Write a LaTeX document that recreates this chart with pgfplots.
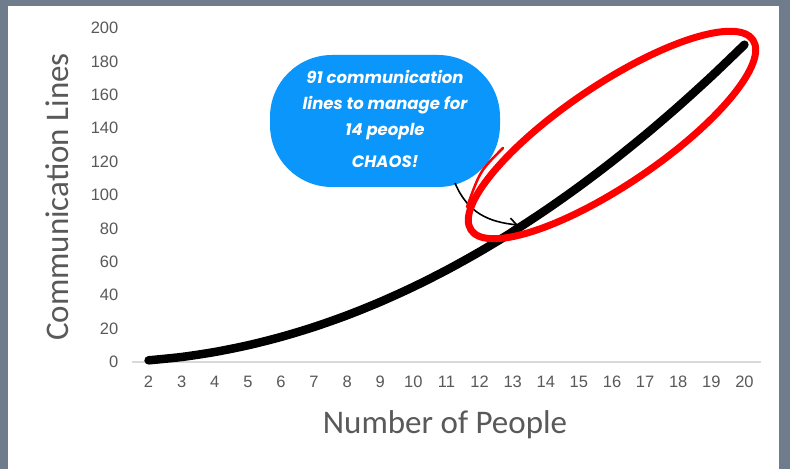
\documentclass[border=0pt]{standalone}
\usepackage{fontspec}
\setmainfont{Liberation Sans}
\newfontfamily\titlefont{Carlito}
\newfontfamily\popfont{Poppins}
\usepackage{pgfplots}
\pgfplotsset{compat=1.18}
\usetikzlibrary{arrows.meta}
\definecolor{frame}{HTML}{6F7C8B}
\definecolor{bubble}{HTML}{0A96FA}
\definecolor{tickc}{HTML}{595959}
\definecolor{axline}{HTML}{D9D9D9}
\begin{document}
\begin{tikzpicture}[x=1pt,y=1pt]
\useasboundingbox (0,0) rectangle (790,469);
\fill[frame] (0,0) rectangle (790,469);
\fill[white] (8,0) rectangle (779,463);
\begin{axis}[at={(132pt,107pt)}, anchor=south west, scale only axis,
  width=629pt, height=334pt, xmin=1.5, xmax=20.5, ymin=0, ymax=200,
  xtick={2,...,20}, ytick={0,20,...,200},
  axis x line=bottom, axis y line=left, axis line style={-},
  x axis line style={draw=axline, line width=1.2pt},
  y axis line style={draw=none}, tick style={draw=none},
  ticklabel style={font=\fontsize{16.5}{19}\selectfont, text=tickc},
  /pgf/number format/assume math mode=true,
  yticklabel style={xshift=-8pt}, xticklabel style={yshift=-8pt},
  clip=false]
\addplot[black, line width=8.5pt, line cap=round, line join=round, smooth] coordinates {
(2,1)(3,3)(4,6)(5,10)(6,15)(7,21)(8,28)(9,36)(10,45)(11,55)(12,66)(13,78)(14,91)(15,105)(16,120)(17,136)(18,153)(19,171)(20,190)};
\end{axis}
\node[rotate=90, font=\titlefont\fontsize{33}{36}\selectfont, text=tickc] at (57,272) {Communication Lines};
\node[font=\titlefont\fontsize{33}{36}\selectfont, text=tickc] at (445,44) {Number of People};
\fill[bubble, rounded corners=62pt] (270,282) rectangle (500,414);
\node[text=white, align=center, font=\popfont\bfseries\itshape\fontsize{16.5}{26}\selectfont] at (385,350) {91 communication\\lines to manage for\\14 people\\[6pt]CHAOS!};
\draw[black, line width=1.6pt, -{Straight Barb[length=7pt,width=12pt]}] (455,286) .. controls (468,255) and (490,247) .. (518,244);
\draw[red, line width=7pt, rotate around={34:(612,334)}] (612,334) ellipse [x radius=170, y radius=50];
\draw[red, line width=2.5pt, line cap=round] (503,321) .. controls (480,298) .. (467,262);
\end{tikzpicture}
\end{document}
